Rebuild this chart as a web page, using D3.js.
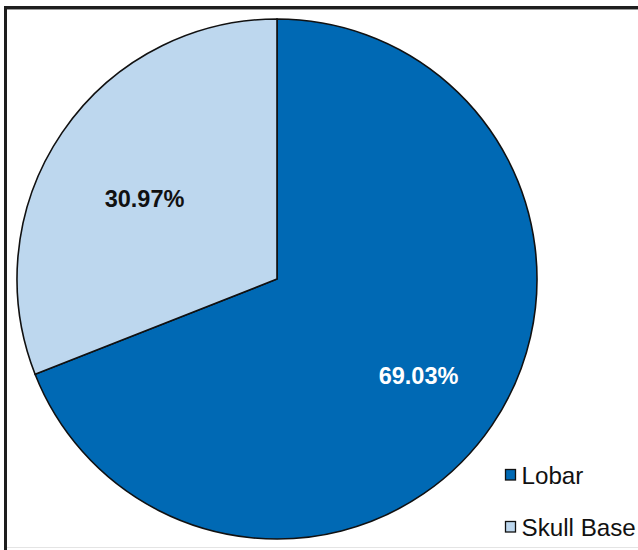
<!DOCTYPE html>
<html><head><meta charset="utf-8">
<script src="https://cdn.jsdelivr.net/npm/d3@7"></script>
<style>html,body{margin:0;padding:0;background:#fff;}svg{display:block;}</style>
</head><body>
<svg id="c" width="638" height="550"></svg>
<script>
const categories = ["Lobar", "Skull Base"];
const values = [69.03, 30.97];
const labels = ["69.03%", "30.97%"];
const colors = ["#0069b4", "#bdd7ee"];
const labelColors = ["#ffffff", "#111111"];

const svg = d3.select("#c");
const W = 638, H = 550;
svg.append("rect").attr("width", W).attr("height", H).attr("fill", "#fff");
// frame
svg.append("line").attr("x1", 4).attr("x2", W).attr("y1", 7.5).attr("y2", 7.5).attr("stroke", "#1e1e1e").attr("stroke-width", 3);
svg.append("line").attr("x1", 5.5).attr("x2", 5.5).attr("y1", 6).attr("y2", H).attr("stroke", "#1e1e1e").attr("stroke-width", 3);
svg.append("line").attr("x1", 7).attr("x2", W).attr("y1", 9.5).attr("y2", 9.5).attr("stroke", "#999").attr("stroke-width", 1);
svg.append("line").attr("x1", 7).attr("x2", W).attr("y1", 547.5).attr("y2", 547.5).attr("stroke", "#e4e4e4").attr("stroke-width", 1);

const cx = 277, cy = 279, r = 260;
const pie = d3.pie().sort(null).startAngle(0).endAngle(2 * Math.PI);
const arcs = pie(values);
const arc = d3.arc().innerRadius(0).outerRadius(r);
const g = svg.append("g").attr("transform", `translate(${cx},${cy})`);
g.selectAll("path").data(arcs).join("path")
  .attr("d", arc)
  .attr("fill", (d, i) => colors[i])
  .attr("stroke", "#111")
  .attr("stroke-width", 1.6)
  .attr("stroke-linejoin", "miter");

const labelPos = [[141.5, 105], [-132.5, -72]];
g.selectAll("text.pct").data(arcs).join("text")
  .attr("class", "pct")
  .attr("x", (d, i) => labelPos[i][0])
  .attr("y", (d, i) => labelPos[i][1])
  .attr("text-anchor", "middle")
  .attr("font-family", "Liberation Sans, Arial, sans-serif")
  .attr("font-weight", "bold")
  .attr("font-size", 23.5)
  .attr("fill", (d, i) => labelColors[i])
  .text((d, i) => labels[i]);

// legend
const ly = d3.scaleBand().domain(categories).range([463, 567]);
const lg = svg.append("g");
const items = lg.selectAll("g").data(categories).join("g")
  .attr("transform", d => `translate(505.5,${ly(d)})`);
items.append("rect").attr("x", 0).attr("y", 6.5).attr("width", 10).attr("height", 10.5)
  .attr("fill", (d, i) => colors[i]).attr("stroke", "#111").attr("stroke-width", 1.3);
items.append("text").attr("x", 16).attr("y", 20.5)
  .attr("font-family", "Liberation Sans, Arial, sans-serif")
  .attr("font-size", 24.2)
  .attr("fill", "#111")
  .text(d => d);
</script>
</body></html>
